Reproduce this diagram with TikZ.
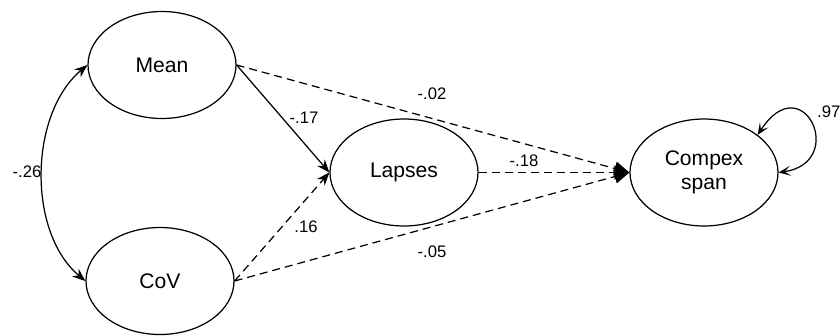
\documentclass[tikz,border=0pt]{standalone}
\usepackage{fontspec}
\setmainfont{Liberation Sans}
\usetikzlibrary{arrows.meta,shapes.geometric}

\begin{document}
\begin{tikzpicture}[
 x=0.2mm,y=0.2mm,
 lat/.style={draw,ellipse,line width=0.7pt,inner sep=0pt,align=center,
   minimum width=29.6mm,minimum height=21.4mm,font=\fontsize{12}{13.6}\selectfont},
 arr/.style={-{Stealth[length=2.6mm,width=2mm]},line width=0.7pt},
 darr/.style={arr,dash pattern=on 1.6mm off 1mm},
 big/.style={-{Triangle[length=3mm,width=2.8mm]},line width=0.7pt,dash pattern=on 1.6mm off 1mm},
 both/.style={{Stealth[length=2.6mm,width=2mm]}-{Stealth[length=2.6mm,width=2mm]},line width=0.7pt},
 self/.style={{Stealth[length=2.4mm,width=2mm,inset=1.2mm]}-{Stealth[length=2.4mm,width=2mm,inset=1.2mm]},line width=0.7pt},
 coef/.style={font=\fontsize{9.5}{11}\selectfont,inner sep=1pt}]
\useasboundingbox (0,0) rectangle (840,335);
\node[lat] (mean) at (162,270) {Mean};
\node[lat] (cov) at (160,54) {CoV};
\node[lat] (lapses) at (404,162.5) {Lapses};
\node[lat] (span) at (704,162.5) {Compex\\span};
% paths into Lapses
\draw[arr] (mean.east) -- (lapses.west);
\draw[darr] (cov.east) -- (lapses.west);
% paths into span
\draw[big] (mean.east) -- (span.west);
\draw[big] (lapses.east) -- (span.west);
\draw[big] (cov.east) -- (span.west);
% covariance and residual
\draw[both] (mean.west) to[out=-140,in=140,looseness=0.9] (cov.west);
\draw[self] (span.east) .. controls +(70,10) and +(45,70) .. (span.35);
\node[coef] (c26) at (27,163) {-.26};
\node[coef] (c17) at (304,217) {-.17};
\node[coef] (c16) at (306,108) {.16};
\node[coef] (c02) at (432,241) {-.02};
\node[coef] (c18) at (524,174) {-.18};
\node[coef] (c05) at (432,83) {-.05};
\node[coef,anchor=west] (c97) at (815,223) {.97};
\end{tikzpicture}
\end{document}
